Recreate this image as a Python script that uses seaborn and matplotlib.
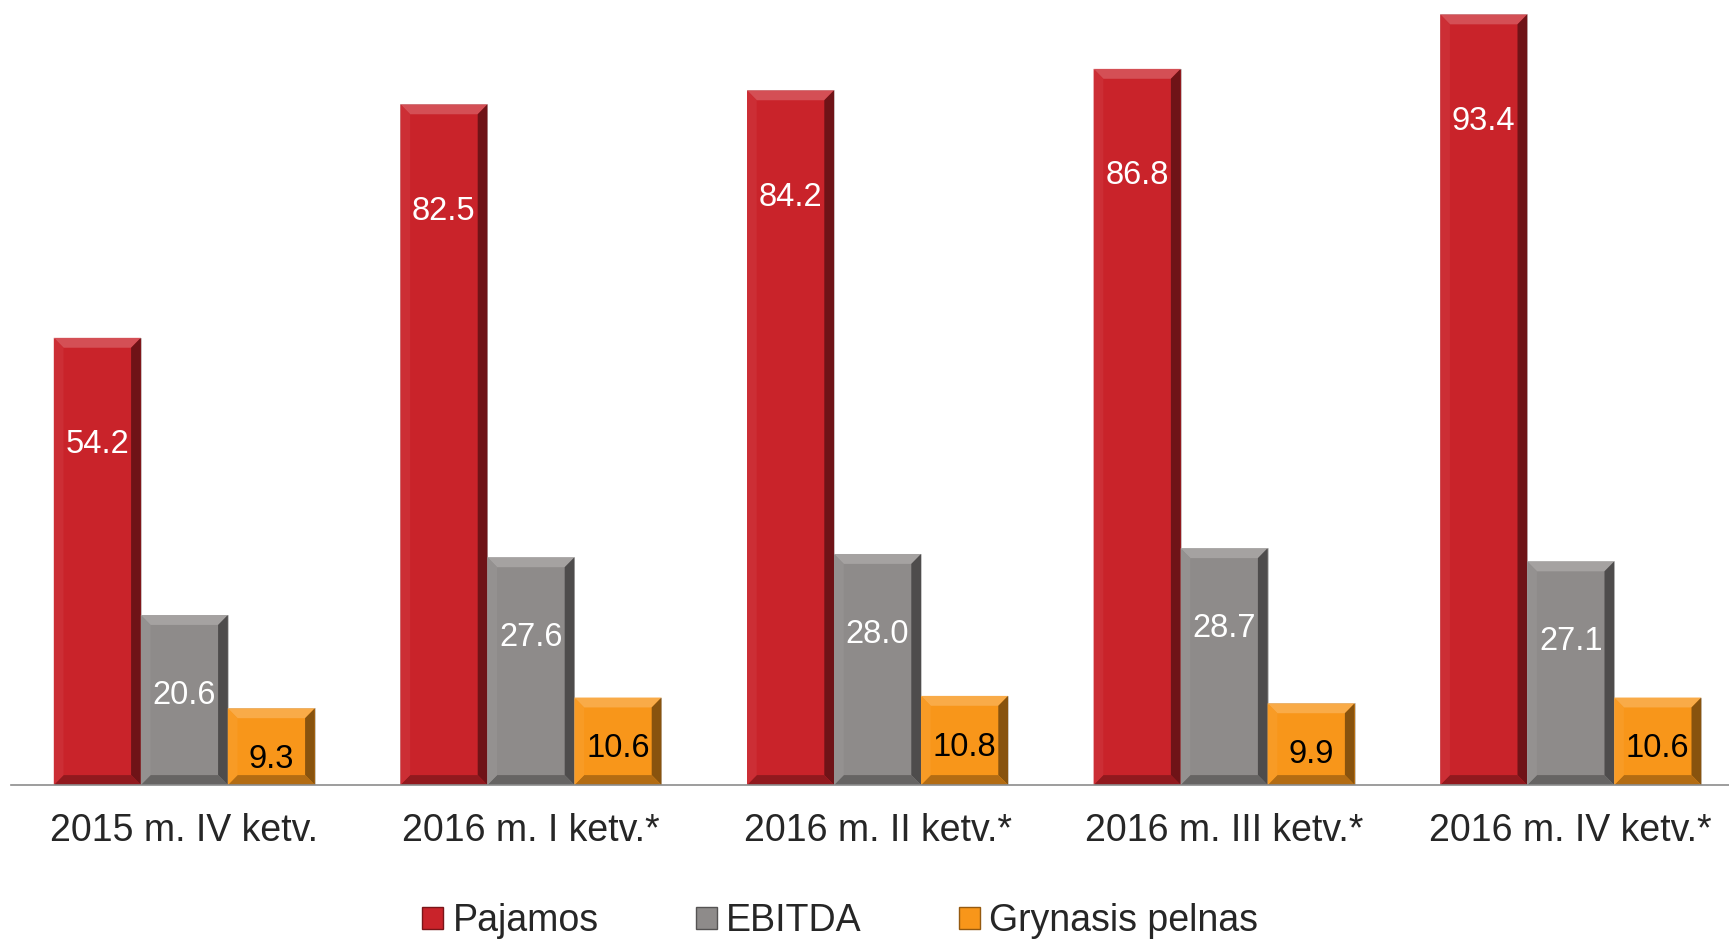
import numpy as np
import pandas as pd
import matplotlib

matplotlib.use('Agg')
import matplotlib.pyplot as plt
from matplotlib.patches import Polygon, Patch
from matplotlib.colors import to_rgb
import seaborn as sns

quarters = ["2015 m. IV ketv.", "2016 m. I ketv.*", "2016 m. II ketv.*",
            "2016 m. III ketv.*", "2016 m. IV ketv.*"]
series = ["Pajamos", "EBITDA", "Grynasis pelnas"]
pajamos = [54.2, 82.5, 84.2, 86.8, 93.4]
ebitda = [20.6, 27.6, 28.0, 28.7, 27.1]
pelnas = [9.3, 10.6, 10.8, 9.9, 10.6]

colors = ["#C9232A", "#8E8B8A", "#F8961A"]
label_colors = ["white", "white", "black"]
label_drop = [77, 58, 37]  # points below bar top

df = pd.DataFrame({
    "quarter": quarters * 3,
    "series": [s for s in series for _ in quarters],
    "value": pajamos + ebitda + pelnas,
})

sns.set_style("white")
plt.rcParams['font.family'] = ['Liberation Sans', 'DejaVu Sans']

fig = plt.figure(figsize=(17.29, 9.40), dpi=100)
ax = fig.add_axes([11 / 1729, 155 / 940, 1733 / 1729, 785 / 940])

sns.barplot(data=df, x="quarter", y="value", hue="series", order=quarters,
            hue_order=series, palette=colors, width=0.753, saturation=1,
            edgecolor="#c8c8c8", linewidth=0.6, legend=False, ax=ax)


def mix(c, other, t):
    c = np.array(to_rgb(c))
    return tuple(c * (1 - t) + np.array(other) * t)


# bevel look
dx, dy = 0.028, 1.2
for cont, col in zip(ax.containers, colors):
    for bar in cont:
        x0, y0 = bar.get_x(), bar.get_y()
        w, h = bar.get_width(), bar.get_height()
        x1, y1 = x0 + w, y0 + h
        faces = [
            ([(x0, y1), (x1, y1), (x1 - dx, y1 - dy), (x0 + dx, y1 - dy)], mix(col, (1, 1, 1), 0.2)),
            ([(x1, y1), (x1, y0), (x1 - dx, y0 + dy), (x1 - dx, y1 - dy)], mix(col, (0, 0, 0), 0.45)),
            ([(x0, y0), (x1, y0), (x1 - dx, y0 + dy), (x0 + dx, y0 + dy)], mix(col, (0, 0, 0), 0.28)),
            ([(x0, y0), (x0, y1), (x0 + dx, y1 - dy), (x0 + dx, y0 + dy)], mix(col, (1, 1, 1), 0.05)),
        ]
        for pts, fc in faces:
            ax.add_patch(Polygon(pts, closed=True, facecolor=fc, edgecolor="none", zorder=bar.get_zorder() + 0.1))

for cont, lc, drop in zip(ax.containers, label_colors, label_drop):
    for bar in cont:
        h = bar.get_height()
        ax.annotate(f"{h:.1f}", xy=(bar.get_x() + bar.get_width() / 2, h),
                    xytext=(0, -drop), textcoords="offset points",
                    ha="center", va="center", fontsize=23.5, color=lc, zorder=5)

ax.set_xlim(-0.5, 4.5)
ax.set_ylim(0, 95.15)
ax.set_xlabel("")
ax.set_ylabel("")
ax.set_yticks([])
for s in ["top", "right", "left"]:
    ax.spines[s].set_visible(False)
ax.spines["bottom"].set_color("#8c8c8c")
ax.spines["bottom"].set_linewidth(1.2)
ax.set_xticks(range(len(quarters)))
ax.set_xticklabels(quarters, fontsize=27)
ax.tick_params(axis="x", which="major", length=0, pad=20)
ax.set_xticks(np.arange(-0.5, 5, 1), minor=True)
ax.tick_params(axis="x", which="minor", length=8, width=1.2, color="#8c8c8c", direction="out")

handles = [Patch(facecolor=c, edgecolor=mix(c, (0, 0, 0), 0.4), linewidth=1) for c in colors]
fig.legend(handles, series, loc="center", bbox_to_anchor=(0.486, 0.02), ncol=3,
           frameon=False, fontsize=27, handlelength=0.55, handleheight=0.55,
           handletextpad=0.25, columnspacing=2.6)

plt.savefig("out.png", dpi=100)
